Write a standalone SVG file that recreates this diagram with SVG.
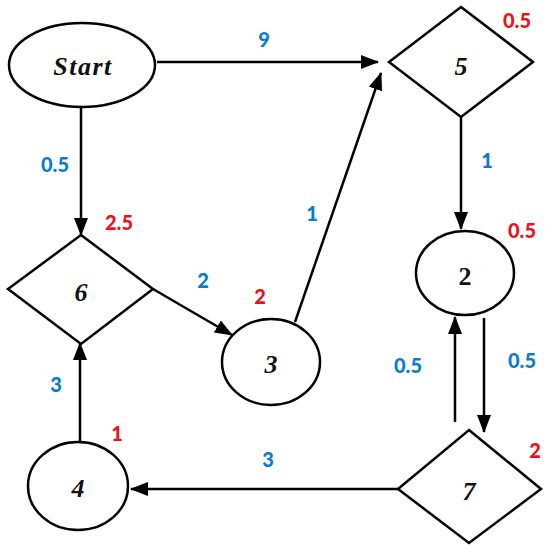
<svg xmlns="http://www.w3.org/2000/svg" width="550" height="545" viewBox="0 0 550 545">
<defs>
<marker id="ah" markerUnits="userSpaceOnUse" markerWidth="18" markerHeight="14" refX="17" refY="7" orient="auto">
<path d="M0,0 L18,7 L0,14 z" fill="#000"/>
</marker>
<style>
.shape{fill:#fff;stroke:#000;stroke-width:2.5}
.edge{stroke:#000;stroke-width:2.5;fill:none;marker-end:url(#ah)}
.nt{font-family:"Liberation Serif",serif;font-weight:bold;font-style:italic;font-size:26px;text-anchor:middle;fill:#111}
.up{font-style:normal}
.w{font-family:Lato,"Liberation Sans",sans-serif;font-weight:900;font-size:20px;text-anchor:middle;fill:#0a7ccc}
.r{font-family:Lato,"Liberation Sans",sans-serif;font-weight:900;font-size:20px;text-anchor:middle;fill:#e8131b}
</style>
</defs>
<rect width="550" height="545" fill="#fff"/>
<g id="connectors">
<line class="edge" x1="157" y1="62" x2="378" y2="62"/>
<line class="edge" x1="81" y1="107" x2="81" y2="235"/>
<line class="edge" x1="461" y1="117" x2="461" y2="229"/>
<line class="edge" x1="295" y1="322" x2="381" y2="73"/>
<line class="edge" x1="153" y1="289" x2="232" y2="335"/>
<line class="edge" x1="484" y1="318" x2="484" y2="432"/>
<line class="edge" x1="455" y1="422" x2="455" y2="317"/>
<line class="edge" x1="398" y1="489" x2="131" y2="489"/>
<line class="edge" x1="80" y1="441" x2="80" y2="343"/>
</g>
<g id="edge-labels">
<text class="w" x="264" y="47">9</text>
<text class="w" x="55" y="172">0.5</text>
<text class="w" x="487" y="168">1</text>
<text class="w" x="312" y="221">1</text>
<text class="w" x="203" y="288">2</text>
<text class="w" x="408" y="373">0.5</text>
<text class="w" x="522" y="368">0.5</text>
<text class="w" x="268" y="467">3</text>
<text class="w" x="56" y="392">3</text>
</g>
<g id="node-start">
<ellipse class="shape" cx="82" cy="65" rx="73" ry="42"/>
<text class="nt" x="83" y="75" letter-spacing="1.5">Start</text>
</g>
<g id="node-5">
<polygon class="shape" points="461,7 533,62 461,117 389,62"/>
<text class="nt" x="461" y="75">5</text>
<text class="r" x="517" y="28">0.5</text>
</g>
<g id="node-2">
<ellipse class="shape" cx="465" cy="273" rx="49" ry="42"/>
<text class="nt up" x="465" y="285">2</text>
<text class="r" x="522" y="238">0.5</text>
</g>
<g id="node-6">
<polygon class="shape" points="81,235 153,289 81,344 8,289"/>
<text class="nt" x="81" y="301">6</text>
<text class="r" x="119" y="230">2.5</text>
</g>
<g id="node-3">
<ellipse class="shape" cx="271" cy="362" rx="49" ry="43"/>
<text class="nt" x="271" y="373">3</text>
<text class="r" x="260" y="304">2</text>
</g>
<g id="node-4">
<ellipse class="shape" cx="78" cy="486" rx="50" ry="44"/>
<text class="nt" x="78" y="497">4</text>
<text class="r" x="117" y="441">1</text>
</g>
<g id="node-7">
<polygon class="shape" points="469,430 541,489 469,543 398,489"/>
<text class="nt" x="469" y="500">7</text>
<text class="r" x="535" y="458">2</text>
</g>
</svg>
